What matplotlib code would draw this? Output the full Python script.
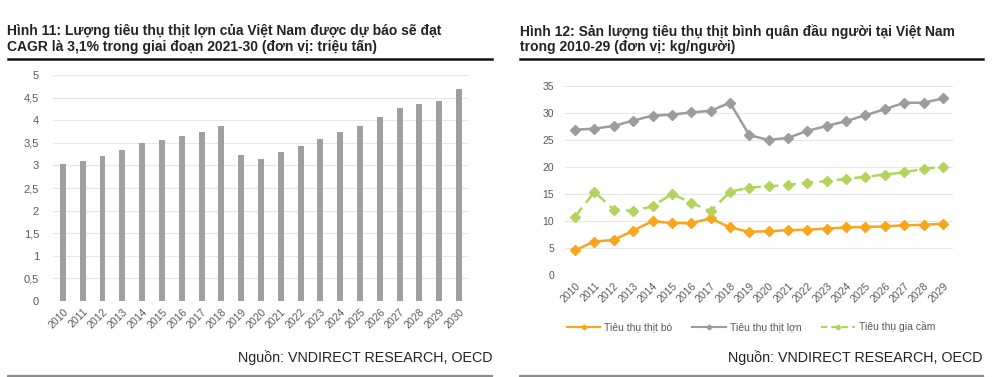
import matplotlib
matplotlib.use("Agg")
import matplotlib.pyplot as plt
from matplotlib.lines import Line2D

plt.rcParams['font.family'] = ['Liberation Sans', 'DejaVu Sans']

# ---- data: left chart (pork consumption, million tonnes)
years_left = [str(y) for y in range(2010, 2031)]
pork_total = [3.03, 3.10, 3.20, 3.35, 3.50, 3.57, 3.66, 3.74, 3.87, 3.23, 3.14,
              3.29, 3.44, 3.58, 3.74, 3.88, 4.07, 4.28, 4.35, 4.42, 4.70]
yticks_left = [0, 0.5, 1, 1.5, 2, 2.5, 3, 3.5, 4, 4.5, 5]
yticklabels_left = ["0", "0,5", "1", "1,5", "2", "2,5", "3", "3,5", "4", "4,5", "5"]

# ---- data: right chart (per capita, kg/person)
years_right = [str(y) for y in range(2010, 2030)]
beef = [4.6, 6.2, 6.5, 8.2, 10.0, 9.6, 9.6, 10.5, 8.8, 8.0,
        8.1, 8.3, 8.4, 8.6, 8.8, 8.9, 9.0, 9.2, 9.3, 9.5]
pork = [26.9, 27.1, 27.6, 28.6, 29.5, 29.7, 30.1, 30.4, 31.9, 25.9,
        25.0, 25.4, 26.7, 27.6, 28.5, 29.6, 30.7, 31.9, 31.9, 32.7]
poultry = [10.8, 15.4, 12.1, 11.9, 12.7, 15.0, 13.4, 11.8, 15.4, 16.2,
           16.4, 16.7, 17.1, 17.4, 17.8, 18.2, 18.6, 19.0, 19.7, 20.0]
yticks_right = [0, 5, 10, 15, 20, 25, 30, 35]
legend_labels = ["Tiêu thụ thịt bò", "Tiêu thụ thịt lợn", "Tiêu thụ gia cầm"]

title_left = ("Hình 11: Lượng tiêu thụ thịt lợn của Việt Nam được dự báo sẽ đạt\n"
              "CAGR là 3,1% trong giai đoạn 2021-30 (đơn vị: triệu tấn)")
title_right = ("Hình 12: Sản lượng tiêu thụ thịt bình quân đầu người tại Việt Nam\n"
               "trong 2010-29 (đơn vị: kg/người)")
source = "Nguồn: VNDIRECT RESEARCH, OECD"

W, H = 1000, 377
TXT = "#595959"
GRID = "#e6e6e6"

fig = plt.figure(figsize=(W / 100, H / 100), dpi=100)
fig.patch.set_facecolor("white")


def px(x0, y0, x1, y1):
    # pixel box (top-left origin) -> figure fraction rect
    return [x0 / W, 1 - y1 / H, (x1 - x0) / W, (y1 - y0) / H]


def style(ax):
    for s in ax.spines.values():
        s.set_visible(False)
    ax.tick_params(length=0, colors=TXT, labelsize=7.5)
    ax.grid(axis="y", color=GRID, linewidth=0.8)
    ax.set_axisbelow(True)


# ---- left chart
ax1 = fig.add_axes(px(53, 75, 468, 301))
xs = range(len(years_left))
ax1.bar(xs, pork_total, width=0.3, color="#a0a0a0", zorder=2)
ax1.set_xlim(-0.5, 20.45)
ax1.set_ylim(0, 5)
ax1.set_yticks(yticks_left)
ax1.set_yticklabels(yticklabels_left)
ax1.set_xticks(list(xs))
ax1.set_xticklabels(years_left, rotation=45, ha="right", rotation_mode="anchor", fontsize=7)
style(ax1)
ax1.tick_params(axis="x", pad=4)
ax1.tick_params(axis="y", pad=10, labelsize=8)

# ---- right chart
ax2 = fig.add_axes(px(565, 86, 953, 275))
xr = range(len(years_right))
ax2.plot(xr, beef, color="#f9a51e", lw=1.8, marker="D", ms=5.5, label=legend_labels[0], zorder=3)
ax2.plot(xr, pork, color="#9c9c9c", lw=1.8, marker="D", ms=5.5, label=legend_labels[1], zorder=3)
ax2.plot(xr, poultry, color="#b3d35c", lw=1.8, ls=(0, (4.5, 2.5)), marker="D", ms=5.5,
         label=legend_labels[2], zorder=3)
ax2.set_xlim(-0.52, 19.52)
ax2.set_ylim(0, 35)
ax2.set_yticks(yticks_right)
ax2.set_xticks(list(xr))
ax2.set_xticklabels(years_right, rotation=45, ha="right", rotation_mode="anchor", fontsize=7)
style(ax2)
ax2.tick_params(axis="x", pad=4)
ax2.tick_params(axis="y", pad=8)

handles = [Line2D([], [], color="#f9a51e", lw=1.5, marker="D", ms=2.5),
           Line2D([], [], color="#9c9c9c", lw=1.5, marker="D", ms=2.5),
           Line2D([], [], color="#b3d35c", lw=1.5, ls=(0, (3, 2)), marker="D", ms=2.5)]
leg = fig.legend(handles, legend_labels, loc="center", bbox_to_anchor=(751 / W, 1 - 327 / H),
                 ncol=3, frameon=False, fontsize=7.5, handlelength=3.2, columnspacing=1.9,
                 handletextpad=0.4)
for t in leg.get_texts():
    t.set_color(TXT)

# ---- titles, rules, sources
fig.text(7 / W, 1 - 24 / H, title_left, ha="left", va="top", fontsize=10, fontweight="bold",
         color="#222222", linespacing=1.15)
fig.text(520 / W, 1 - 24 / H, title_right, ha="left", va="top", fontsize=10, fontweight="bold",
         color="#222222", linespacing=1.15)
fig.add_artist(Line2D([8 / W, 492 / W], [1 - 58.5 / H] * 2, color="#111111", lw=1.8))
fig.add_artist(Line2D([520 / W, 983 / W], [1 - 58.5 / H] * 2, color="#111111", lw=1.8))
fig.add_artist(Line2D([8 / W, 492 / W], [1 - 375.5 / H] * 2, color="#8c8c8c", lw=1.6))
fig.add_artist(Line2D([520 / W, 983 / W], [1 - 375.5 / H] * 2, color="#8c8c8c", lw=1.6))
fig.text(492 / W, 1 - 358 / H, source, ha="right", va="center", fontsize=10.3, color="#222222")
fig.text(982 / W, 1 - 358 / H, source, ha="right", va="center", fontsize=10.3, color="#222222")

fig.savefig("out.png", dpi=100, facecolor="white")
